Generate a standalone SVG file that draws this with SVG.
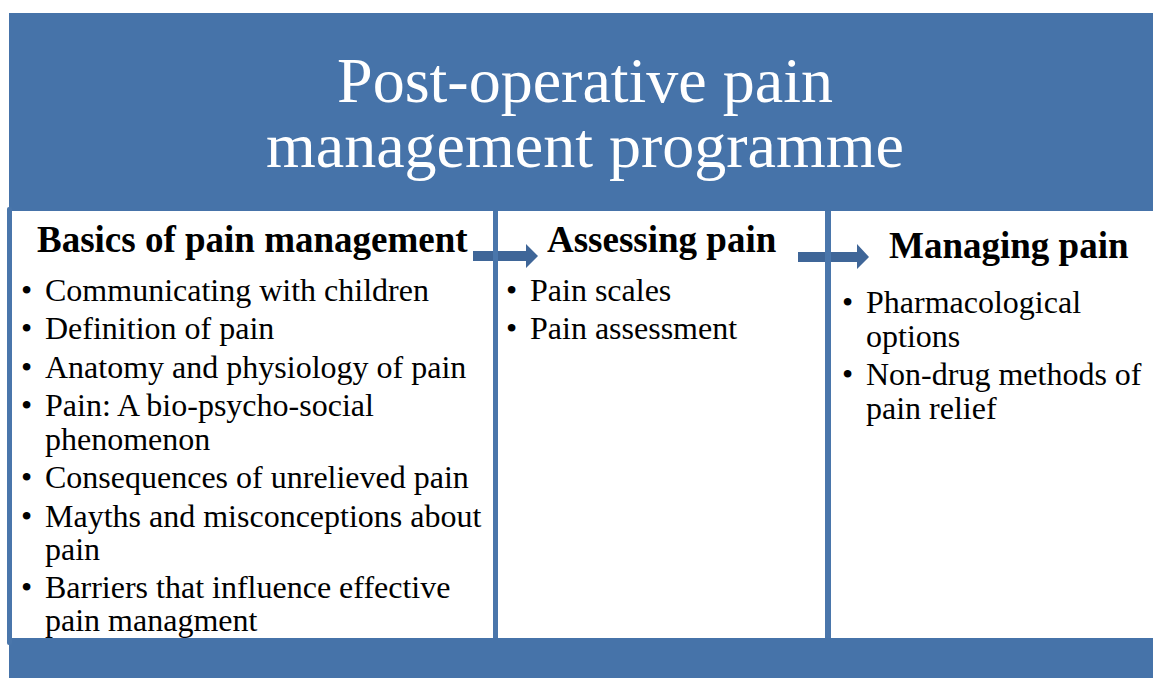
<svg xmlns="http://www.w3.org/2000/svg" width="1153" height="678" viewBox="0 0 1153 678">
<style>
.band{fill:#4673a9}
.div{fill:#4a76ab}
.title{font-family:"Liberation Serif","Times New Roman",serif;font-size:64px;fill:#ffffff;text-anchor:middle}
.head{font-family:"Liberation Serif","Times New Roman",serif;font-size:37px;font-weight:bold;fill:#000}
.item{font-family:"Liberation Serif","Times New Roman",serif;font-size:32px;fill:#000}
.arrow{fill:#3f6698}
</style>
<rect x="0" y="0" width="1153" height="678" fill="#ffffff"/>
<g id="header">
<rect class="band" x="9" y="13" width="1144" height="198"/>
<text class="title" x="585" y="102">Post-operative pain</text>
<text class="title" x="585" y="167">management programme</text>
</g>
<g id="footer">
<rect class="band" x="9" y="638" width="1144" height="40"/>
</g>
<g id="connectors">
<path class="arrow" d="M473,251 H526 V244 L538,256 L526,268 V261 H473 Z"/>
<path class="arrow" d="M798,252 H857 V244 L869,257 L857,269 V262 H798 Z"/>
</g>
<g id="frame">
<rect class="div" x="7" y="207" width="5" height="438" rx="2"/>
<rect class="div" x="493" y="211" width="5" height="427"/>
<rect class="div" x="825" y="211" width="6" height="427"/>
</g>
<g id="col-basics">
<text class="head" x="37" y="252">Basics of pain management</text>
<text class="item"><tspan x="21" y="301">•</tspan><tspan x="45" y="301">Communicating with children</tspan></text>
<text class="item"><tspan x="21" y="339">•</tspan><tspan x="45" y="339">Definition of pain</tspan></text>
<text class="item"><tspan x="21" y="378">•</tspan><tspan x="45" y="378">Anatomy and physiology of pain</tspan></text>
<text class="item"><tspan x="21" y="416">•</tspan><tspan x="45" y="416">Pain: A bio-psycho-social</tspan><tspan x="45" y="450">phenomenon</tspan></text>
<text class="item"><tspan x="21" y="488">•</tspan><tspan x="45" y="488">Consequences of unrelieved pain</tspan></text>
<text class="item"><tspan x="21" y="527">•</tspan><tspan x="45" y="527">Mayths and misconceptions about</tspan><tspan x="45" y="560">pain</tspan></text>
<text class="item"><tspan x="21" y="598">•</tspan><tspan x="45" y="598">Barriers that influence effective</tspan><tspan x="45" y="631">pain managment</tspan></text>
</g>
<g id="col-assessing">
<text class="head" x="547" y="252">Assessing pain</text>
<text class="item"><tspan x="506" y="301">•</tspan><tspan x="530" y="301">Pain scales</tspan></text>
<text class="item"><tspan x="506" y="339">•</tspan><tspan x="530" y="339">Pain assessment</tspan></text>
</g>
<g id="col-managing">
<text class="head" x="889" y="258">Managing pain</text>
<text class="item"><tspan x="842" y="313">•</tspan><tspan x="866" y="313">Pharmacological</tspan><tspan x="866" y="347">options</tspan></text>
<text class="item"><tspan x="842" y="385">•</tspan><tspan x="866" y="385">Non-drug methods of</tspan><tspan x="866" y="419">pain relief</tspan></text>
</g>
</svg>
